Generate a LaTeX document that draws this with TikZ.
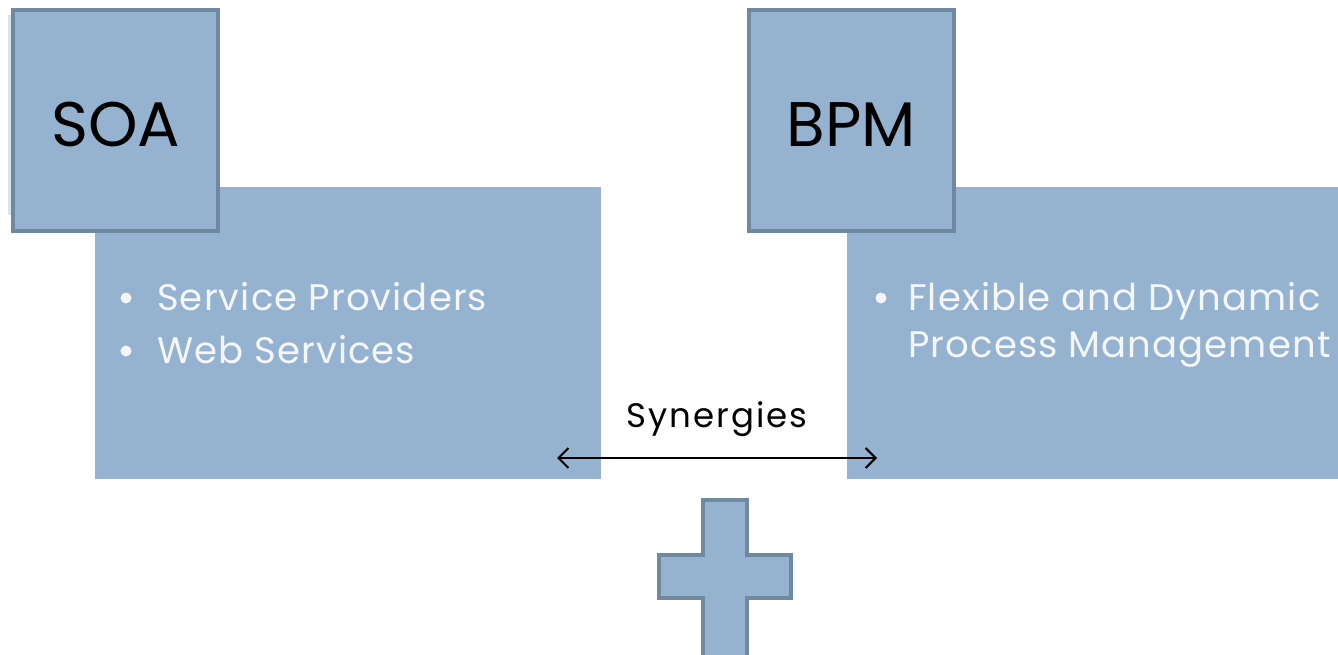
\documentclass[tikz,border=0pt]{standalone}
\usepackage{fontspec}
\setmainfont{Poppins}
\newfontfamily\widefont[LetterSpace=3]{Poppins}
\newfontfamily\widerfont[LetterSpace=6]{Poppins}
\usetikzlibrary{arrows.meta}
\definecolor{boxfill}{HTML}{95B3D1}
\definecolor{boxline}{HTML}{6F8AA0}
\definecolor{bullettext}{HTML}{F4F6F9}
\tikzset{
  content/.style={fill=boxfill, draw=none},
  titlebox/.style={fill=boxfill, draw=boxline, line width=3.5pt},
  titletext/.style={font=\fontsize{63}{63}\selectfont, text=black, anchor=base},
  itemtext/.style={font=\widefont\fontsize{37}{37}\selectfont, text=bullettext, anchor=base west, inner sep=0pt},
  bulletdot/.style={circle, fill=bullettext, inner sep=0pt, minimum size=11pt},
}
\begin{document}
\begin{tikzpicture}[x=1pt,y=-1pt]
\useasboundingbox (0,0) rectangle (1338,655);
% shadow strip
\fill[boxfill!35] (8,15) rectangle (14,215);
% content boxes
\path[content] (95,187) rectangle (601,479);
\path[content] (847,187) rectangle (1338,479);
% title boxes
\draw[titlebox] (13,10) rectangle (218,231);
\draw[titlebox] (749,10) rectangle (954,231);
\node[titletext] (soa) at (115.5,147) {SOA};
\node[titletext] (bpm) at (851.5,147) {BPM};
% bullets
\node[bulletdot] (b1) at (126,298) {};
\node[itemtext] (t1) at (157,310) {Service Providers};
\node[bulletdot] (b2) at (126,351) {};
\node[itemtext] (t2) at (157,363) {Web Services};
\node[bulletdot] (b3) at (881,298) {};
\node[itemtext] (t3) at (908,310) {Flexible and Dynamic};
\node[itemtext] (t4) at (908,357) {Process Management};
% synergies
\node[font=\widerfont\fontsize{34}{34}\selectfont, text=black, anchor=base] (syn) at (717,427) {Synergies};
\coordinate (al) at (557,458);
\coordinate (ar) at (877,458);
\draw[line width=2pt, {Straight Barb[length=10pt,width=20pt]}-{Straight Barb[length=10pt,width=20pt]}] (al) -- (ar);
% plus
\draw[titlebox] (703,500) -- (747,500) -- (747,555) -- (791,555) -- (791,598) -- (747,598) -- (747,660) -- (703,660) -- (703,598) -- (659,598) -- (659,555) -- (703,555) -- cycle;
\end{tikzpicture}
\end{document}
